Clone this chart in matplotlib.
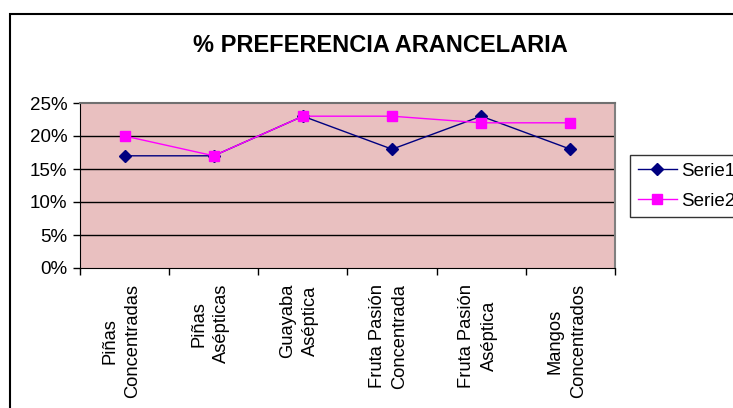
import numpy as np
import matplotlib.pyplot as plt
import matplotlib.transforms as mtransforms
from matplotlib.patches import Rectangle

plt.rcParams['font.family'] = ['Liberation Sans', 'DejaVu Sans']

categorias = ['Piñas\nConcentradas', 'Piñas\nAsépticas', 'Guayaba\nAséptica',
              'Fruta Pasión\nConcentrada', 'Fruta Pasión\nAséptica', 'Mangos\nConcentrados']
serie1 = [17, 17, 23, 18, 23, 18]
serie2 = [20, 17, 23, 23, 22, 22]
yticks = [0, 5, 10, 15, 20, 25]

fig = plt.figure(figsize=(7.33, 4.08), dpi=100)
fig.patch.set_facecolor('white')

# outer chart border (cut off on right and bottom)
fig.patches.append(Rectangle((10 / 733, -0.2), 1.2, 1 - 14 / 408 + 0.2,
                             transform=fig.transFigure, fill=False,
                             edgecolor='black', linewidth=1.5))

ax = fig.add_axes([80 / 733, 1 - 268 / 408, 535 / 733, 165 / 408])
ax.set_facecolor('#e9c0c0')

x = np.arange(len(categorias))
ax.plot(x, serie1, color='#000080', marker='D', markersize=6, linewidth=1, label='Serie1')
ax.plot(x, serie2, color='#ff00ff', marker='s', markersize=7, linewidth=1, label='Serie2')

ax.set_xlim(-0.5, len(categorias) - 0.5)
ax.set_ylim(0, 25)
ax.set_yticks(yticks)
ax.set_yticklabels([str(v) + '%' for v in yticks], fontsize=13.5)
for v in yticks[1:-1]:
    ax.axhline(v, color='black', linewidth=1, zorder=1)

ax.set_xticks(np.arange(len(categorias) + 1) - 0.5)
ax.set_xticklabels([])
ax.tick_params(axis='x', direction='out', length=5, width=1)
ax.tick_params(axis='y', direction='out', length=5, width=1, pad=4)

# category labels: x in data, y in figure coords
trans = mtransforms.blended_transform_factory(ax.transData, fig.transFigure)
for i, c in enumerate(categorias):
    ax.text(i - 0.04, 1 - 284 / 408, c, rotation=90, ha='center', va='top', fontsize=13.2,
            multialignment='center', linespacing=1.45, transform=trans, clip_on=False)

ax.spines['left'].set_color('black')
ax.spines['bottom'].set_color('black')
ax.spines['top'].set_color('#707070')
ax.spines['right'].set_color('#808080')
ax.spines['top'].set_linewidth(1.5)
ax.spines['right'].set_linewidth(1.5)

fig.text(380 / 733, 1 - 45 / 408, '% PREFERENCIA ARANCELARIA', ha='center', va='center',
         fontsize=17, fontweight='bold')

leg = ax.legend(loc='upper left', bbox_to_anchor=(630 / 733, 1 - 155 / 408),
                bbox_transform=fig.transFigure, fontsize=13.5, frameon=True,
                fancybox=False, edgecolor='black', handlelength=2.1,
                borderpad=0.4, labelspacing=0.7, handletextpad=0.25,
                borderaxespad=0)
leg.get_frame().set_linewidth(1)

plt.savefig('out.png', dpi=100)
